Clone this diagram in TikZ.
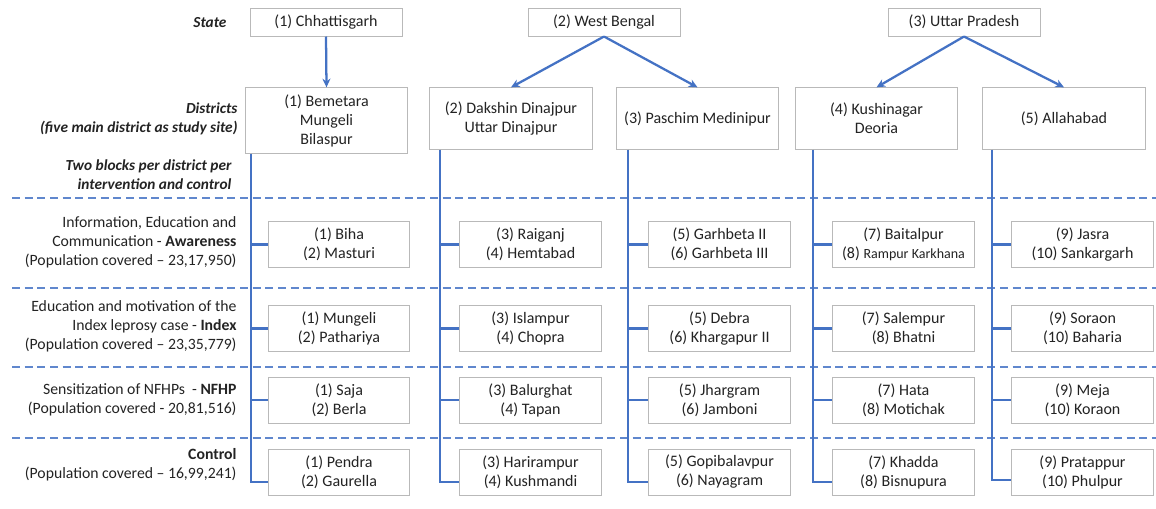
\documentclass[tikz,border=0pt]{standalone}
\usepackage{fontspec}
\setmainfont{Carlito}
\usetikzlibrary{arrows.meta}

\definecolor{lineblue}{RGB}{68,114,196}
\definecolor{boxgray}{RGB}{185,185,185}
\definecolor{txtgray}{RGB}{35,35,35}

\tikzset{every picture/.style={line width=0.75pt}}
\tikzset{
	box/.style={draw=boxgray, fill=white, align=center, inner sep=2pt, text=txtgray, font=\fontsize{12}{14.25}\selectfont},
	statebox/.style={box, minimum width=114pt, minimum height=21pt},
	distbox/.style={box, minimum width=122pt, minimum height=46pt},
	blockbox/.style={box, minimum width=106pt, minimum height=34.5pt},
	rowlabel/.style={anchor=east, align=right, inner sep=0pt, text=txtgray, font=\fontsize{11.8}{14.25}\selectfont},
	headlabel/.style={rowlabel, font=\fontsize{11.5}{14}\selectfont\bfseries\itshape},
	link/.style={draw=lineblue, line width=1.7pt},
	arrowlink/.style={link, -{Stealth[length=6.5pt,width=6pt]}},
	sepline/.style={draw=lineblue!85, line width=0.8pt, dash pattern=on 6pt off 3.5pt}
}

\begin{document}
\begin{tikzpicture}[x=0.75pt,y=0.75pt,yscale=-1,xscale=1]
	\useasboundingbox (0,0) rectangle (1156,508);

	%Straight Lines: row separators
	\draw [sepline] (12,198) -- (1156,198) ;
	\draw [sepline] (12,288) -- (1156,288) ;
	\draw [sepline] (12,367) -- (1156,367) ;
	\draw [sepline] (12,438) -- (1156,438) ;

	% Text Node: left labels
	\node [headlabel] (lstate) at (227,23) {State};
	\node [headlabel] (ldist) at (238,119) {Districts\\(five main district as study site)};
	\node [headlabel] (lblock) at (232,175) {Two blocks per district per\\intervention and control};
	\node [rowlabel] (lawa) at (237,242) {Information, Education and\\Communication - \textbf{Awareness}\\(Population covered -- 23,17,950)};
	\node [rowlabel] (lidx) at (237,326) {Education and motivation of the\\Index leprosy case - \textbf{Index}\\(Population covered -- 23,35,779)};
	\node [rowlabel] (lnfhp) at (237,399.5) {Sensitization of NFHPs\ \ - \textbf{NFHP}\\(Population covered - 20,81,516)};
	\node [rowlabel] (lctrl) at (237,465) {\textbf{Control}\\(Population covered -- 16,99,241)};

	% Text Node: states
	\node [statebox] (st1) at (326,22) {(1) Chhattisgarh};
	\node [statebox] (st2) at (604,22) {(2) West Bengal};
	\node [statebox] (st3) at (964,22) {(3) Uttar Pradesh};

	% Text Node: districts
	\node [distbox, minimum height=49pt] (d1) at (326.5,120.5) {(1) Bemetara\\Mungeli\\Bilaspur};
	\node [distbox] (d2) at (511,118.5) {(2) Dakshin Dinajpur\\Uttar Dinajpur};
	\node [distbox] (d3) at (697.5,118.5) {(3) Paschim Medinipur};
	\node [distbox] (d4) at (876.5,118.5) {(4) Kushinagar\\Deoria};
	\node [distbox] (d5) at (1064,118.5) {(5) Allahabad};

	%Straight Lines: state to district
	\draw [arrowlink] (st1.south) -- (d1.north) ;
	\draw [arrowlink] (st2.south) -- (d2.north) ;
	\draw [arrowlink] (st2.south) -- (d3.north) ;
	\draw [arrowlink] (st3.south) -- (d4.north) ;
	\draw [arrowlink] (st3.south) -- (d5.north) ;

	% Text Node: blocks, column 1
	\node [blockbox] (b11) at (339,244.5) {(1) Biha\\(2) Masturi};
	\node [blockbox] (b12) at (339,328.5) {(1) Mungeli\\(2) Pathariya};
	\node [blockbox] (b13) at (339,400) {(1) Saja\\(2) Berla};
	\node [blockbox] (b14) at (339,472) {(1) Pendra\\(2) Gaurella};
	% Text Node: blocks, column 2
	\node [blockbox] (b21) at (530.5,244.5) {(3) Raiganj\\(4) Hemtabad};
	\node [blockbox] (b22) at (530.5,328.5) {(3) Islampur\\(4) Chopra};
	\node [blockbox] (b23) at (530.5,400) {(3) Balurghat\\(4) Tapan};
	\node [blockbox] (b24) at (530.5,472) {(3) Harirampur\\(4) Kushmandi};
	% Text Node: blocks, column 3
	\node [blockbox] (b31) at (719.5,244.5) {(5) Garhbeta II\\(6) Garhbeta III};
	\node [blockbox] (b32) at (719.5,328.5) {(5) Debra\\(6) Khargapur II};
	\node [blockbox] (b33) at (719.5,400) {(5) Jhargram\\(6) Jamboni};
	\node [blockbox] (b34) at (719.5,472) {(5) Gopibalavpur\\(6) Nayagram};
	% Text Node: blocks, column 4
	\node [blockbox] (b41) at (903.5,244.5) {(7) Baitalpur\\(8) {\fontsize{10.5}{14.25}\selectfont Rampur Karkhana}};
	\node [blockbox] (b42) at (903.5,328.5) {(7) Salempur\\(8) Bhatni};
	\node [blockbox] (b43) at (903.5,400) {(7) Hata\\(8) Motichak};
	\node [blockbox] (b44) at (903.5,472) {(7) Khadda\\(8) Bisnupura};
	% Text Node: blocks, column 5
	\node [blockbox] (b51) at (1082.5,244.5) {(9) Jasra\\(10) Sankargarh};
	\node [blockbox] (b52) at (1082.5,328.5) {(9) Soraon\\(10) Baharia};
	\node [blockbox] (b53) at (1082.5,400) {(9) Meja\\(10) Koraon};
	\node [blockbox] (b54) at (1082.5,472) {(9) Pratappur\\(10) Phulpur};

	%Straight Lines: district trunks
	\coordinate (v1) at ([xshift=4.5pt]d1.south west);
	\coordinate (v2) at ([xshift=8pt]d2.south west);
	\coordinate (v3) at ([xshift=9.5pt]d3.south west);
	\coordinate (v4) at ([xshift=13.5pt]d4.south west);
	\coordinate (v5) at ([xshift=7.5pt]d5.south west);

	\draw [link] (v1) |- ([yshift=7.5pt]b14.west) ;
	\draw [link] (v1 |- b11.west) -- (b11.west) ;
	\draw [link] (v1 |- b12.west) -- (b12.west) ;
	\draw [link] (v1 |- b13.west) -- (b13.west) ;

	\draw [link] (v2) |- ([yshift=7.5pt]b24.west) ;
	\draw [link] (v2 |- b21.west) -- (b21.west) ;
	\draw [link] (v2 |- b22.west) -- (b22.west) ;
	\draw [link] (v2 |- b23.west) -- (b23.west) ;

	\draw [link] (v3) |- ([yshift=7.5pt]b34.west) ;
	\draw [link] (v3 |- b31.west) -- (b31.west) ;
	\draw [link] (v3 |- b32.west) -- (b32.west) ;
	\draw [link] (v3 |- b33.west) -- (b33.west) ;

	\draw [link] (v4) |- ([yshift=7.5pt]b44.west) ;
	\draw [link] (v4 |- b41.west) -- (b41.west) ;
	\draw [link] (v4 |- b42.west) -- (b42.west) ;
	\draw [link] (v4 |- b43.west) -- (b43.west) ;

	\draw [link] (v5) |- ([yshift=6pt]b54.west) ;
	\draw [link] (v5 |- b51.west) -- (b51.west) ;
	\draw [link] (v5 |- b52.west) -- (b52.west) ;
	\draw [link] (v5 |- b53.west) -- (b53.west) ;

\end{tikzpicture}
\end{document}
